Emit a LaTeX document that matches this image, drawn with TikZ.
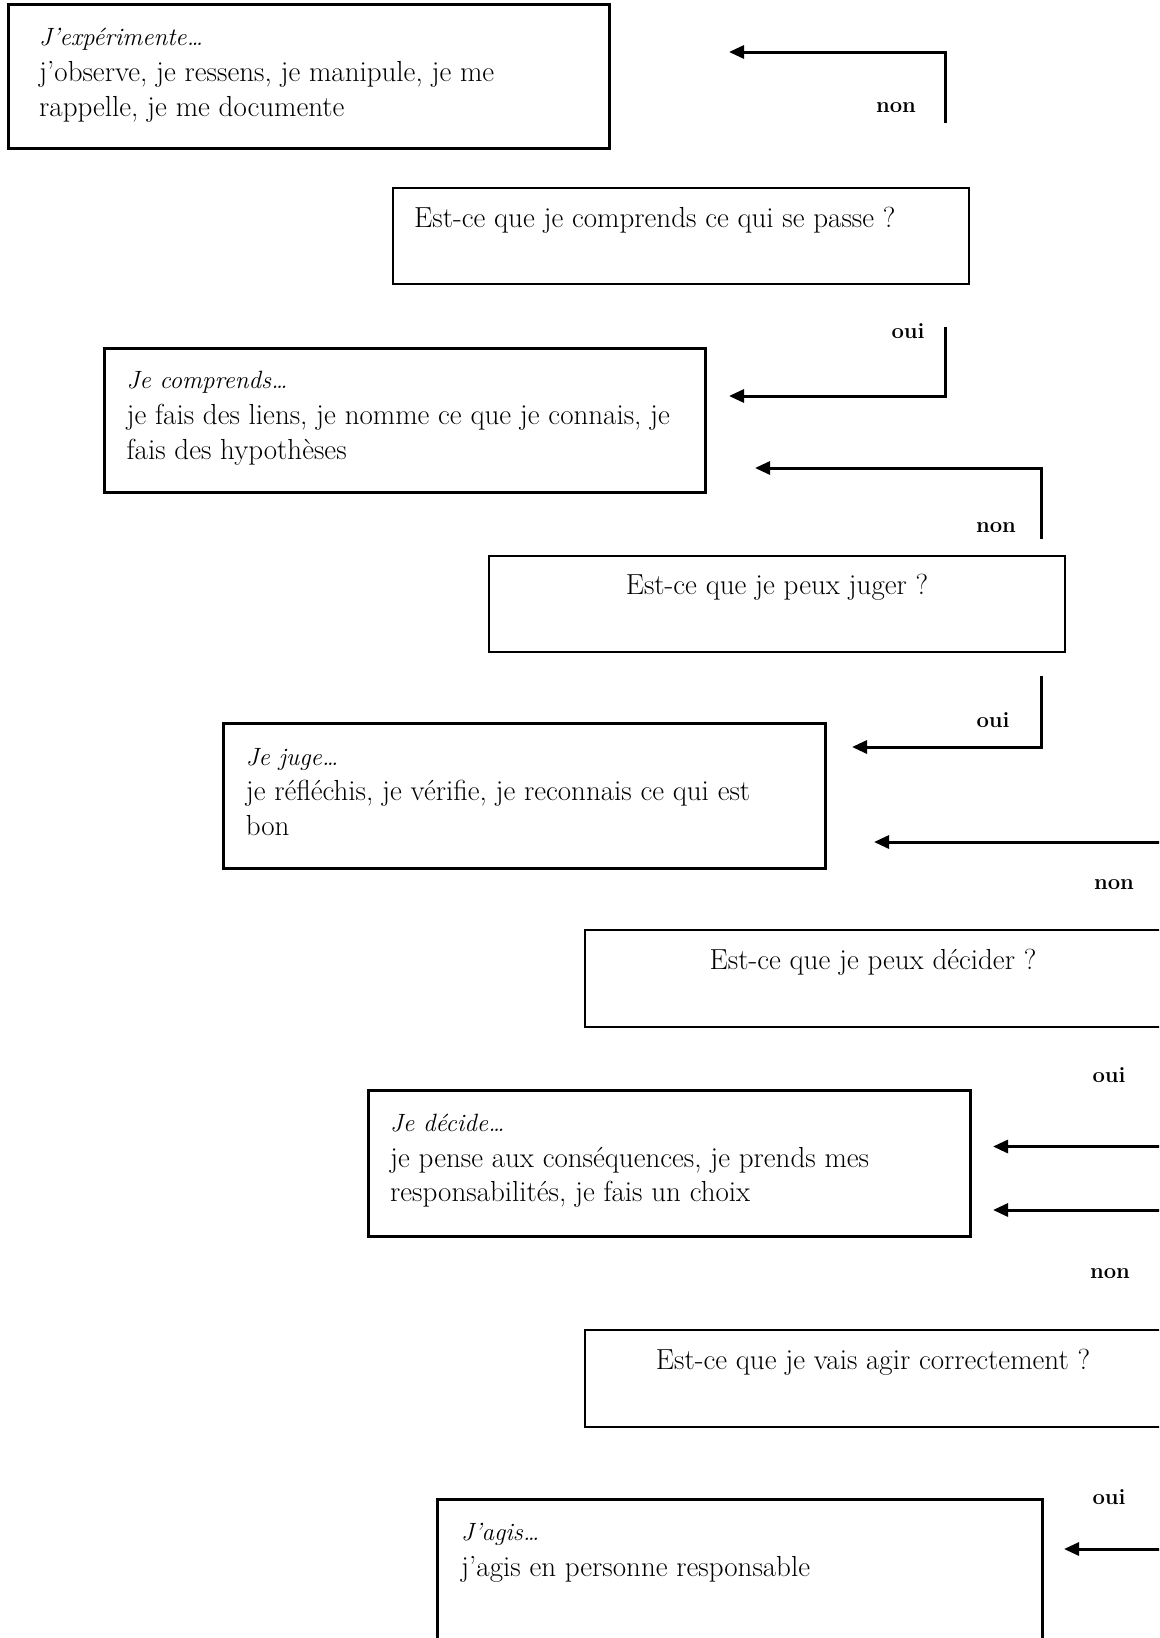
\documentclass[tikz,border=0pt]{standalone}
\usetikzlibrary{arrows.meta}
\begin{document}
\begin{tikzpicture}[x=1pt,y=-1pt,
  bigbox/.style={draw=black,line width=3pt,anchor=north west,inner sep=0pt,outer sep=0pt,minimum width=601pt,minimum height=144pt},
  qbox/.style={draw=black,line width=1.8pt,anchor=north west,inner sep=0pt,outer sep=0pt,minimum width=576pt,minimum height=96pt},
  txt/.style={anchor=base west,inner sep=0pt,font=\fontsize{29}{34}\selectfont},
  itxt/.style={anchor=base west,inner sep=0pt,font=\fontsize{25}{30}\selectfont\itshape},
  ctxt/.style={anchor=base,inner sep=0pt,font=\fontsize{29}{34}\selectfont},
  lbl/.style={anchor=base,inner sep=0pt,font=\fontsize{22}{26}\selectfont\bfseries},
  arr/.style={line width=3pt,-{Triangle[length=15pt,width=13pt]}}]
\useasboundingbox (0,0) rectangle (1159,1638);
\clip (0,0) rectangle (1159,1638);

% boxes
\node[bigbox] (b1) at (8,4) {};
\node[qbox] (q1) at (393,188) {};
\node[bigbox] (b2) at (104.5,348) {};
\node[qbox] (q2) at (489,556) {};
\node[bigbox,minimum width=602pt,minimum height=145.5pt] (b3) at (223.6,723) {};
\node[qbox,minimum height=97pt] (q3) at (585,930) {};
\node[bigbox,minimum width=602pt,minimum height=146pt] (b4) at (368,1090) {};
\node[qbox,minimum height=97pt] (q4) at (585,1330) {};
\node[bigbox,minimum width=605pt,minimum height=170pt] (b5) at (437,1499) {};

% texts
\node[itxt] (t11) at (39,45) {J’expérimente…};
\node[txt] (t12) at (39,81) {j’observe, je ressens, je manipule, je me};
\node[txt] (t13) at (39,116) {rappelle, je me documente};
\node[txt] (tq1) at (414,227) {Est-ce que je comprends ce qui se passe ?};
\node[itxt] (t21) at (126.5,388) {Je comprends…};
\node[txt] (t22) at (126.5,424) {je fais des liens, je nomme ce que je connais, je};
\node[txt] (t23) at (126.5,459) {fais des hypothèses};
\node[ctxt] (tq2) at (777,594) {Est-ce que je peux juger ?};
\node[itxt] (t31) at (245.6,765) {Je juge…};
\node[txt] (t32) at (245.6,800) {je réfléchis, je vérifie, je reconnais ce qui est};
\node[txt] (t33) at (245.6,835) {bon};
\node[ctxt] (tq3) at (873,969.5) {Est-ce que je peux décider ?};
\node[itxt] (t41) at (390,1131.5) {Je décide…};
\node[txt] (t42) at (390,1167) {je pense aux conséquences, je prends mes};
\node[txt] (t43) at (390,1201.5) {responsabilités, je fais un choix};
\node[ctxt] (tq4) at (873,1369) {Est-ce que je vais agir correctement ?};
\node[itxt] (t51) at (461,1540) {J’agis…};
\node[txt] (t52) at (461,1576) {j’agis en personne responsable};

% labels
\node[lbl] (l1) at (896,112) {non};
\node[lbl] (l2) at (908,338) {oui};
\node[lbl] (l3) at (996,532) {non};
\node[lbl] (l4) at (993,727) {oui};
\node[lbl] (l5) at (1114,889) {non};
\node[lbl] (l6) at (1109,1082) {oui};
\node[lbl] (l7) at (1110,1278) {non};
\node[lbl] (l8) at (1109,1504) {oui};

% connector end points
\coordinate (a1s) at (945,123); \coordinate (a1c) at (945,52); \coordinate (a1e) at (729,52);
\coordinate (a2s) at (945,327); \coordinate (a2c) at (945,396); \coordinate (a2e) at (729,396);
\coordinate (a3s) at (1041,539); \coordinate (a3c) at (1041,468); \coordinate (a3e) at (755,468);
\coordinate (a4s) at (1041,676); \coordinate (a4c) at (1041,747); \coordinate (a4e) at (852,747);
\coordinate (a5s) at (1175,842); \coordinate (a5e) at (874,842);
\coordinate (a6s) at (1175,1146.5); \coordinate (a6e) at (993,1146.5);
\coordinate (a7s) at (1175,1210); \coordinate (a7e) at (993,1210);
\coordinate (a8s) at (1175,1549); \coordinate (a8e) at (1064,1549);

\draw[arr] (a1s) -- (a1c) -- (a1e);
\draw[arr] (a2s) -- (a2c) -- (a2e);
\draw[arr] (a3s) -- (a3c) -- (a3e);
\draw[arr] (a4s) -- (a4c) -- (a4e);
\draw[arr] (a5s) -- (a5e);
\draw[arr] (a6s) -- (a6e);
\draw[arr] (a7s) -- (a7e);
\draw[arr] (a8s) -- (a8e);
\end{tikzpicture}
\end{document}
